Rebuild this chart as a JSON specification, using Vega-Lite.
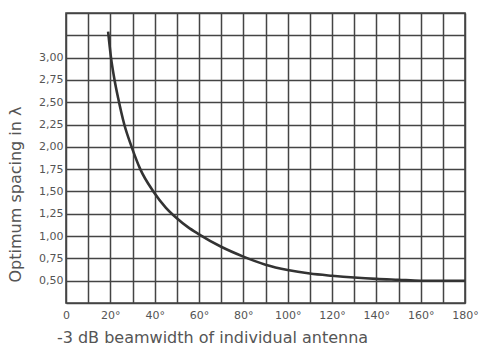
{
  "$schema": "https://vega.github.io/schema/vega-lite/v6.json",
  "width": 399,
  "height": 290,
  "autosize": "none",
  "padding": {"left": 66, "top": 13, "right": 15, "bottom": 44},
  "background": "white",
  "config": {
    "view": {"stroke": "#444", "strokeWidth": 1.6},
    "font": "DejaVu Sans",
    "axis": {
      "gridColor": "#444",
      "gridWidth": 1.5,
      "gridOpacity": 1,
      "domain": false,
      "ticks": false,
      "labelColor": "#555",
      "labelFontSize": 11,
      "titleColor": "#555",
      "titleFontWeight": "normal"
    }
  },
  "data": {
    "values": [
      {"beamwidth": 19.0, "spacing": 3.29},
      {"beamwidth": 20.3, "spacing": 3.00},
      {"beamwidth": 21.9, "spacing": 2.75},
      {"beamwidth": 23.5, "spacing": 2.55},
      {"beamwidth": 26.3, "spacing": 2.25},
      {"beamwidth": 29.6, "spacing": 2.00},
      {"beamwidth": 33.5, "spacing": 1.75},
      {"beamwidth": 39.4, "spacing": 1.50},
      {"beamwidth": 45, "spacing": 1.32},
      {"beamwidth": 50, "spacing": 1.20},
      {"beamwidth": 55, "spacing": 1.10},
      {"beamwidth": 60, "spacing": 1.02},
      {"beamwidth": 70, "spacing": 0.88},
      {"beamwidth": 80, "spacing": 0.77},
      {"beamwidth": 90, "spacing": 0.68},
      {"beamwidth": 100, "spacing": 0.62},
      {"beamwidth": 110, "spacing": 0.58},
      {"beamwidth": 120, "spacing": 0.555},
      {"beamwidth": 130, "spacing": 0.535},
      {"beamwidth": 140, "spacing": 0.52},
      {"beamwidth": 150, "spacing": 0.51},
      {"beamwidth": 160, "spacing": 0.50},
      {"beamwidth": 180, "spacing": 0.50}
    ]
  },
  "mark": {"type": "line", "color": "#333", "strokeWidth": 2.6, "interpolate": "monotone"},
  "encoding": {
    "x": {
      "field": "beamwidth",
      "type": "quantitative",
      "scale": {"domain": [0, 180], "nice": false, "zero": false},
      "axis": {
        "values": [0, 10, 20, 30, 40, 50, 60, 70, 80, 90, 100, 110, 120, 130, 140, 150, 160, 170, 180],
        "labelExpr": "datum.value % 20 == 0 ? (datum.value == 0 ? '0' : datum.value + '°') : ''",
        "labelPadding": 6,
        "labelFlush": false,
        "title": "-3 dB beamwidth of individual antenna",
        "titleFontSize": 16,
        "titleX": 146,
        "titleY": 34,
        "titleAlign": "center",
        "titleBaseline": "middle"
      }
    },
    "y": {
      "field": "spacing",
      "type": "quantitative",
      "scale": {"domain": [0.25, 3.5], "nice": false, "zero": false},
      "axis": {
        "values": [0.25, 0.5, 0.75, 1.0, 1.25, 1.5, 1.75, 2.0, 2.25, 2.5, 2.75, 3.0, 3.25, 3.5],
        "labelExpr": "datum.value >= 0.5 && datum.value <= 3.0 ? replace(format(datum.value, '.2f'), '.', ',') : ''",
        "labelPadding": 3,
        "labelFlush": false,
        "title": "Optimum spacing in λ",
        "titleFontSize": 16,
        "titleX": -51,
        "titleY": 181,
        "titleAlign": "center",
        "titleBaseline": "middle"
      }
    }
  }
}
